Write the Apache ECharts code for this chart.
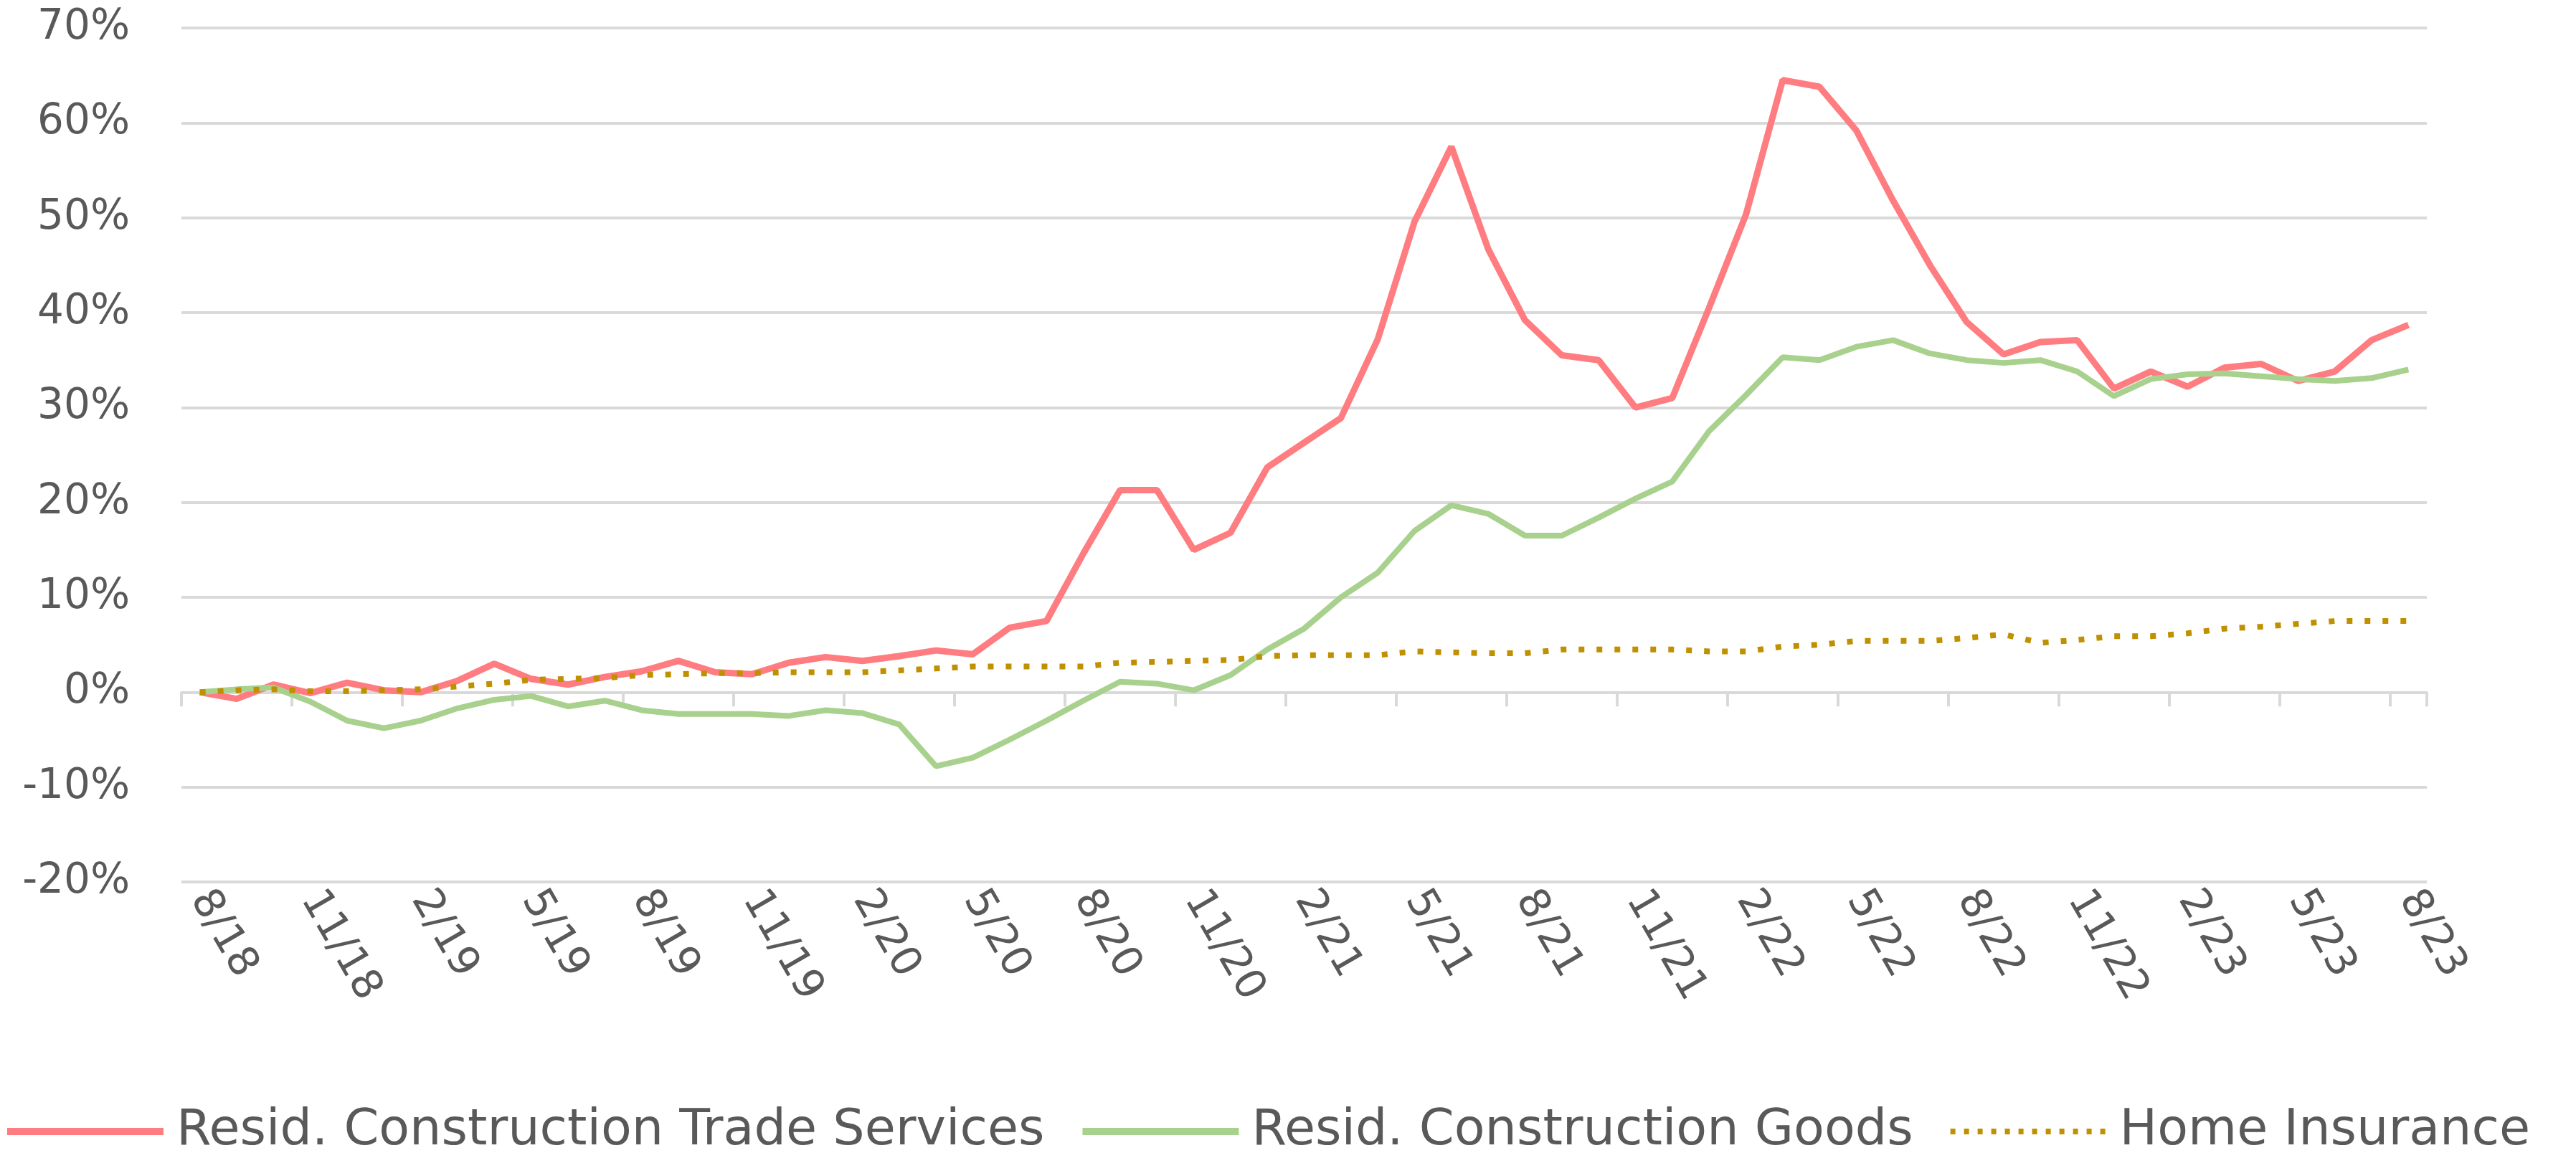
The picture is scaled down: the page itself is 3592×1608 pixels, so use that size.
<!DOCTYPE html>
<html>
<head>
<meta charset="utf-8">
<script src="https://cdn.jsdelivr.net/npm/echarts@6/dist/echarts.min.js"></script>
<style>
html,body{margin:0;padding:0;background:#fff;}
#chart{width:3592px;height:1608px;}
</style>
</head>
<body>
<div id="chart"></div>
<script>
const categories = [
  "8/18","9/18","10/18","11/18","12/18","1/19","2/19","3/19","4/19","5/19","6/19","7/19",
  "8/19","9/19","10/19","11/19","12/19","1/20","2/20","3/20","4/20","5/20","6/20","7/20",
  "8/20","9/20","10/20","11/20","12/20","1/21","2/21","3/21","4/21","5/21","6/21","7/21",
  "8/21","9/21","10/21","11/21","12/21","1/22","2/22","3/22","4/22","5/22","6/22","7/22",
  "8/22","9/22","10/22","11/22","12/22","1/23","2/23","3/23","4/23","5/23","6/23","7/23",
  "8/23"
];
const tradeServices = [
  0, -0.7, 0.8, -0.1, 1.0, 0.2, 0.0, 1.2, 3.0, 1.4, 0.8, 1.6,
  2.2, 3.3, 2.1, 1.9, 3.1, 3.7, 3.3, 3.8, 4.4, 4.0, 6.8, 7.5,
  14.6, 21.3, 21.3, 15.0, 16.8, 23.7, 26.3, 28.9, 37.2, 49.6, 57.5, 46.7,
  39.2, 35.5, 35.0, 30.0, 31.0, 40.5, 50.3, 64.5, 63.8, 59.2, 51.8, 45.0,
  39.0, 35.6, 36.9, 37.1, 32.0, 33.8, 32.2, 34.2, 34.6, 32.8, 33.8, 37.1,
  38.7
];
const constructionGoods = [
  0, 0.3, 0.5, -1.0, -3.0, -3.8, -3.0, -1.7, -0.8, -0.4, -1.5, -0.9,
  -1.9, -2.3, -2.3, -2.3, -2.5, -1.9, -2.2, -3.4, -7.8, -6.9, -5.0, -3.0,
  -0.9, 1.1, 0.9, 0.2, 1.8, 4.5, 6.7, 10.0, 12.6, 17.0, 19.7, 18.8,
  16.5, 16.5, 18.4, 20.4, 22.2, 27.5, 31.3, 35.3, 35.0, 36.4, 37.1, 35.7,
  35.0, 34.7, 35.0, 33.8, 31.2, 33.0, 33.5, 33.6, 33.3, 33.0, 32.8, 33.1,
  34.0
];
const homeInsurance = [
  0, 0.2, 0.3, 0.1, 0.1, 0.2, 0.3, 0.6, 0.9, 1.3, 1.4, 1.5,
  1.8, 1.9, 2.0, 2.0, 2.1, 2.1, 2.1, 2.3, 2.5, 2.7, 2.7, 2.7,
  2.7, 3.1, 3.2, 3.3, 3.4, 3.8, 3.9, 3.9, 3.9, 4.3, 4.2, 4.1,
  4.1, 4.5, 4.5, 4.5, 4.5, 4.3, 4.3, 4.8, 5.0, 5.4, 5.4, 5.4,
  5.7, 6.1, 5.2, 5.5, 5.9, 5.9, 6.2, 6.7, 6.9, 7.2, 7.5, 7.5,
  7.5
];
const seriesNames = ["Resid. Construction Trade Services", "Resid. Construction Goods", "Home Insurance"];

const FONT = "DejaVu Sans";
const TXT = "#595959";
const GRID = "#D9D9D9";
const RED = "#FF7C80", GREEN = "#A9D18E", GOLD = "#BF9000";

const chart = echarts.init(document.getElementById('chart'), null, {renderer: 'canvas'});
chart.setOption({
  animation: false,
  backgroundColor: '#ffffff',
  grid: {left: 253, right: 208, top: 39, bottom: 378, containLabel: false},
  legend: {
    left: 0, top: 1538,
    itemWidth: 218, itemHeight: 24, itemGap: 48,
    itemStyle: {opacity: 0},
    textStyle: {fontFamily: FONT, fontSize: 70, color: TXT, padding: [0, 0, 0, 13]},
    data: [
      {name: seriesNames[0], lineStyle: {color: RED, width: 10}},
      {name: seriesNames[1], lineStyle: {color: GREEN, width: 10}},
      {name: seriesNames[2], lineStyle: {color: GOLD, width: 8, type: [7, 12], cap: 'butt'}}
    ]
  },
  xAxis: [
    {
      type: 'category', data: categories, boundaryGap: true, position: 'bottom',
      axisLine: {show: false, onZero: false},
      axisTick: {show: false},
      splitLine: {show: false},
      axisLabel: {interval: 2, rotate: -60, fontFamily: FONT, fontSize: 58, color: TXT, margin: 16}
    },
    {
      type: 'category', data: categories, boundaryGap: true, position: 'bottom',
      axisLine: {show: true, onZero: true, lineStyle: {color: GRID, width: 4}},
      axisTick: {show: true, interval: 2, length: 20, lineStyle: {color: GRID, width: 4}},
      axisLabel: {show: false},
      splitLine: {show: false}
    }
  ],
  yAxis: {
    type: 'value', min: -20, max: 70, interval: 10,
    axisLine: {show: false}, axisTick: {show: false},
    splitLine: {lineStyle: {color: GRID, width: 4}},
    axisLabel: {formatter: '{value}%', fontFamily: FONT, fontSize: 58, color: TXT, margin: 72}
  },
  series: [
    {
      name: seriesNames[0], type: 'line', data: tradeServices, symbol: 'none',
      lineStyle: {color: RED, width: 9}, itemStyle: {color: RED}
    },
    {
      name: seriesNames[1], type: 'line', data: constructionGoods, symbol: 'none',
      lineStyle: {color: GREEN, width: 8}, itemStyle: {color: GREEN}
    },
    {
      name: seriesNames[2], type: 'line', data: homeInsurance, symbol: 'none',
      lineStyle: {color: GOLD, width: 8, type: [8, 17], cap: 'butt'}, itemStyle: {color: GOLD}
    }
  ]
});
</script>
</body>
</html>
